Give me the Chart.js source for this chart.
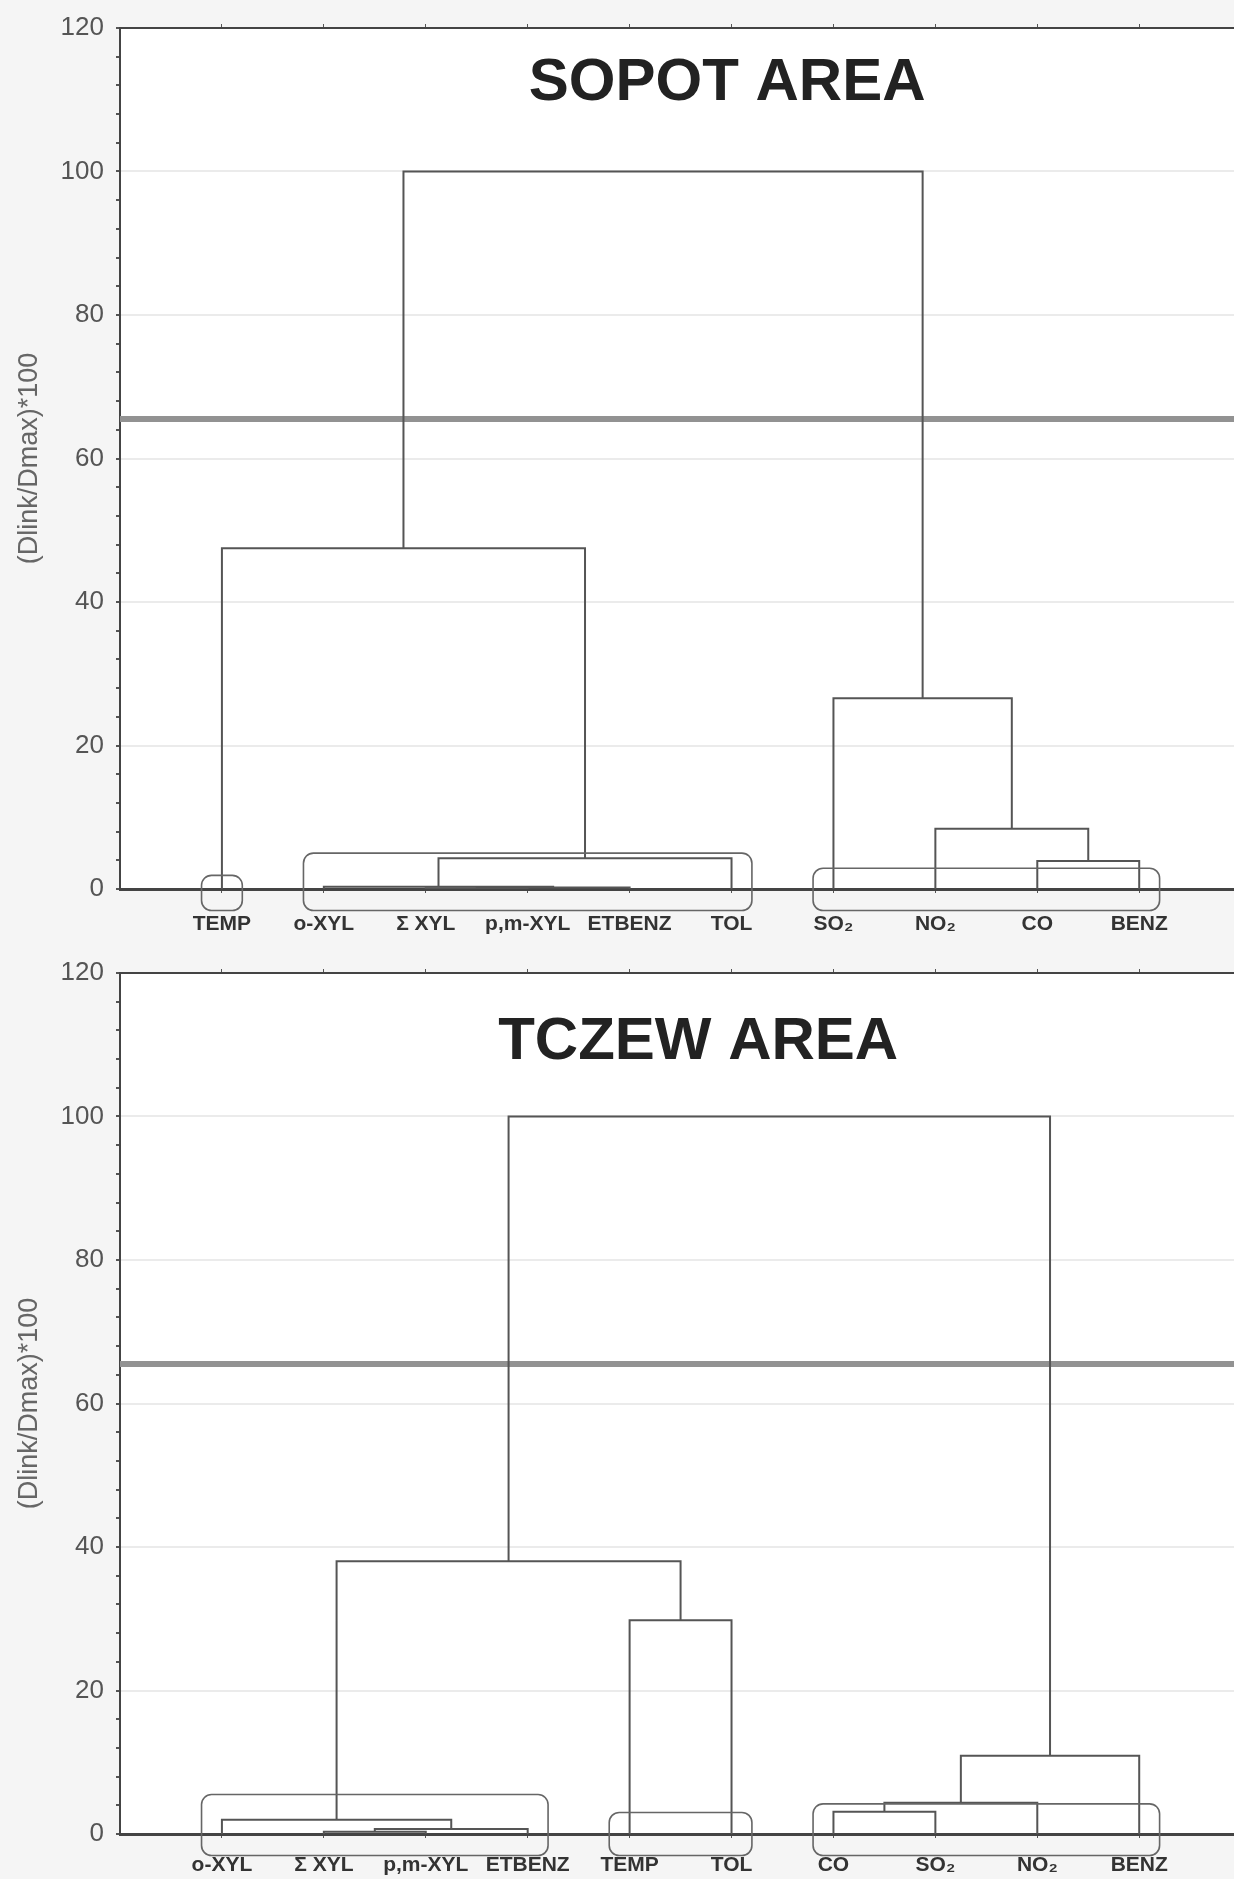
<!DOCTYPE html>
<html>
<head>
<meta charset="utf-8">
<title>SOPOT / TCZEW dendrograms</title>
<script src="https://cdn.jsdelivr.net/npm/chart.js@4.4.1/dist/chart.umd.min.js"></script>
<style>
  html, body { margin: 0; padding: 0; background: #f5f5f5; overflow: hidden; }
  canvas { position: absolute; left: 0; display: block; }
  #sopotChart { top: 0; }
  #tczewChart { top: 940px; }
</style>
</head>
<body>
<canvas id="sopotChart" width="1234" height="940"></canvas>
<canvas id="tczewChart" width="1234" height="939"></canvas>
<script>
// ---- data ----
// leaves in the order they sit on the x axis (positions 1..10)
const sopotLeaves = ["TEMP", "o-XYL", "\u03A3 XYL", "p,m-XYL", "ETBENZ", "TOL", "SO\u2082", "NO\u2082", "CO", "BENZ"];
// merges: [left node, right node, (Dlink/Dmax)*100]; nodes 0-9 are leaves, 10+ are the merges in order
const sopotMerges = [
  [2, 3, 0.1],
  [10, 4, 0.2],
  [1, 11, 0.3],
  [12, 5, 4.3],
  [8, 9, 3.9],
  [7, 14, 8.4],
  [6, 15, 26.6],
  [0, 13, 47.5],
  [17, 16, 100],
];
// hand-drawn rings: [first leaf, last leaf, ring top]
const sopotGroups = [[0, 0, 1.9], [1, 5, 5.0], [6, 9, 2.9]];

const tczewLeaves = ["o-XYL", "\u03A3 XYL", "p,m-XYL", "ETBENZ", "TEMP", "TOL", "CO", "SO\u2082", "NO\u2082", "BENZ"];
const tczewMerges = [
  [1, 2, 0.3],
  [10, 3, 0.7],
  [0, 11, 2.0],
  [4, 5, 29.8],
  [12, 13, 38.0],
  [6, 7, 3.1],
  [15, 8, 4.35],
  [16, 9, 10.9],
  [14, 17, 100],
];
const tczewGroups = [[0, 3, 5.5], [4, 5, 3.0], [6, 9, 4.2]];

const cutLevel = 65.5;
const yTicks = [0, 20, 40, 60, 80, 100, 120];
const xMax = 10.93;

Chart.defaults.font.family = "'Liberation Sans', Arial, sans-serif";

// turn the merge list into U-shaped links (x = leaf position, y = height)
function buildLinks(leaves, merges) {
  const pos = leaves.map((_, i) => i + 1);
  const height = leaves.map(() => 0);
  return merges.map(([a, b, h]) => {
    const pts = [
      { x: pos[a], y: height[a] },
      { x: pos[a], y: h },
      { x: pos[b], y: h },
      { x: pos[b], y: height[b] },
    ];
    pos.push((pos[a] + pos[b]) / 2);
    height.push(h);
    return pts;
  });
}

const plotBg = {
  id: "plotBg",
  beforeDraw(chart) {
    const { ctx, chartArea: a } = chart;
    ctx.save();
    ctx.fillStyle = "#ffffff";
    ctx.fillRect(a.left, a.top, a.right - a.left, a.bottom - a.top);
    ctx.restore();
  },
};

const rings = {
  id: "rings",
  afterDatasetsDraw(chart, args, opts) {
    const { ctx } = chart;
    const xs = chart.scales.x;
    const ys = chart.scales.y;
    ctx.save();
    ctx.strokeStyle = "#666";
    ctx.lineWidth = 1.6;
    opts.groups.forEach(([first, last, top]) => {
      const x0 = xs.getPixelForValue(first + 1 - 0.2);
      const x1 = xs.getPixelForValue(last + 1 + 0.2);
      const y0 = ys.getPixelForValue(top);
      const y1 = ys.getPixelForValue(-3.0);
      ctx.beginPath();
      ctx.roundRect(x0, y0, x1 - x0, y1 - y0, 10);
      ctx.stroke();
    });
    // panel heading inside the plot
    const a = chart.chartArea;
    ctx.fillStyle = "#222";
    ctx.font = "bold 60px 'Liberation Sans', Arial, sans-serif";
    ctx.textAlign = "center";
    ctx.textBaseline = "middle";
    ctx.fillText(opts.title, a.left + opts.titleX * (a.right - a.left), a.top + opts.titleY);
    ctx.restore();
  },
};

function makePanel(id, leaves, merges, groups, title, layout) {
  const links = buildLinks(leaves, merges);
  const leafPos = leaves.map((_, i) => i + 1);

  const datasets = links.map((pts) => ({
    data: pts,
    borderColor: "#555",
    borderWidth: 2,
    pointRadius: 0,
    tension: 0,
    fill: false,
  }));
  datasets.push({
    data: [{ x: 0, y: cutLevel }, { x: xMax, y: cutLevel }],
    borderColor: "#929292",
    borderWidth: 6,
    pointRadius: 0,
    fill: false,
  });

  return new Chart(document.getElementById(id), {
    type: "line",
    data: { datasets },
    options: {
      responsive: false,
      animation: false,
      events: [],
      layout: { padding: { top: layout.top, right: 0, left: 0, bottom: 0 } },
      plugins: {
        legend: { display: false },
        tooltip: { enabled: false },
        rings: { groups, title, titleX: layout.titleX, titleY: layout.titleY },
      },
      scales: {
        x: {
          type: "linear",
          min: 0,
          max: xMax,
          afterBuildTicks: (s) => { s.ticks = leafPos.map((v) => ({ value: v })); },
          afterFit: (s) => { s.height = layout.xHeight; },
          ticks: {
            autoSkip: false,
            maxRotation: 0,
            padding: layout.labelPad,
            color: "#333",
            font: { size: 21, weight: "bold" },
            callback: (v) => leaves[v - 1],
          },
          grid: { drawOnChartArea: false, tickLength: 4, color: "#555" },
          border: { color: "#444", width: 3 },
        },
        xTop: {
          type: "linear",
          position: "top",
          min: 0,
          max: xMax,
          afterBuildTicks: (s) => { s.ticks = leafPos.map((v) => ({ value: v })); },
          afterFit: (s) => { s.height = 0; },
          ticks: { display: false },
          grid: { drawOnChartArea: false, tickLength: 4, color: "#555" },
          border: { color: "#444", width: 2 },
        },
        y: {
          min: 0,
          max: 120,
          afterFit: (s) => { s.width = 120; },
          ticks: {
            stepSize: 4,
            autoSkip: false,
            padding: 12,
            color: "#555",
            font: { size: 26 },
            callback: (v) => (yTicks.includes(v) ? v : ""),
          },
          grid: {
            lineWidth: 2,
            tickLength: 4,
            color: (c) => (c.tick && c.tick.value % 20 === 0 ? "#ebebeb" : "rgba(0,0,0,0)"),
            tickColor: "#555",
          },
          border: { color: "#444", width: 2 },
          title: {
            display: true,
            text: "(Dlink/Dmax)*100",
            color: "#666",
            font: { size: 27 },
            padding: { top: 13, bottom: 0 },
          },
        },
      },
    },
    plugins: [plotBg, rings],
  });
}

makePanel("sopotChart", sopotLeaves, sopotMerges, sopotGroups, "SOPOT AREA",
  { top: 28, xHeight: 51, labelPad: 19, titleX: 0.545, titleY: 55 });
makePanel("tczewChart", tczewLeaves, tczewMerges, tczewGroups, "TCZEW AREA",
  { top: 33, xHeight: 45, labelPad: 15, titleX: 0.519, titleY: 69 });
</script>
</body>
</html>
